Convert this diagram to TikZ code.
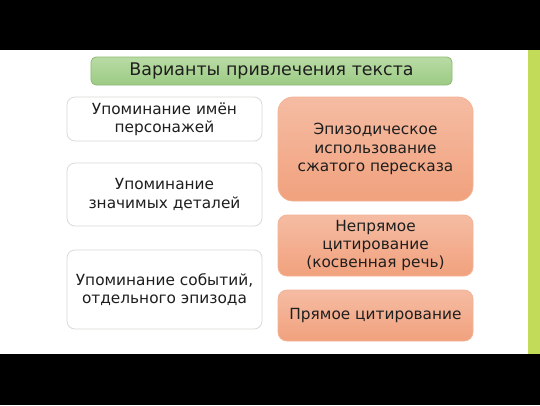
\documentclass[tikz,border=0pt]{standalone}
\usepackage{fontspec}
\setmainfont{DejaVu Sans}
\definecolor{stripgreen}{HTML}{C2DC5A}
\definecolor{ttop}{HTML}{B9DBA5}
\definecolor{tbot}{HTML}{9CCB84}
\definecolor{tborder}{HTML}{8DBA74}
\definecolor{stop}{HTML}{F5BCA3}
\definecolor{sbot}{HTML}{F1A17D}
\definecolor{sborder}{HTML}{F3B395}
\definecolor{wborder}{HTML}{D8DCD2}
\definecolor{txt}{HTML}{1E1E1E}
\begin{document}
\begin{tikzpicture}[x=1bp,y=-1bp,
  base/.style={inner sep=0pt, align=center, text=txt, line width=0.8pt,
    font=\fontsize{15.4}{18.4}\selectfont},
  titlebox/.style={base, rounded corners=5bp, draw=tborder, top color=ttop, bottom color=tbot,
    font=\fontsize{17.5}{20}\selectfont},
  whitebox/.style={base, rounded corners=8bp, draw=wborder, fill=white},
  salmonbox/.style={base, rounded corners=9bp, draw=sborder, top color=stop, bottom color=sbot}]
\useasboundingbox (0,0) rectangle (540,405);
\fill[black] (0,0) rectangle (540,405);
\fill[white] (0,50) rectangle (540,354);
\fill[stripgreen] (528,50) rectangle (540,354);
\node[titlebox, minimum width=361bp, minimum height=28bp] (title) at (271.5,71) {Варианты привлечения текста};
\node[whitebox, minimum width=195bp, minimum height=44bp] (l1) at (164.5,119) {Упоминание имён\\персонажей};
\node[whitebox, minimum width=195bp, minimum height=63bp] (l2) at (164.5,194.5) {Упоминание\\значимых деталей};
\node[whitebox, minimum width=195bp, minimum height=79bp] (l3) at (164.5,289.5) {Упоминание событий,\\отдельного эпизода};
\node[salmonbox, rounded corners=15bp, minimum width=195bp, minimum height=104bp] (r1) at (375.5,149) {Эпизодическое\\использование\\сжатого пересказа};
\node[salmonbox, minimum width=195bp, minimum height=61bp] (r2) at (375.5,245.5) {Непрямое\\цитирование\\(косвенная речь)};
\node[salmonbox, minimum width=195bp, minimum height=51bp] (r3) at (375.5,315.5) {Прямое цитирование};
\end{tikzpicture}
\end{document}
